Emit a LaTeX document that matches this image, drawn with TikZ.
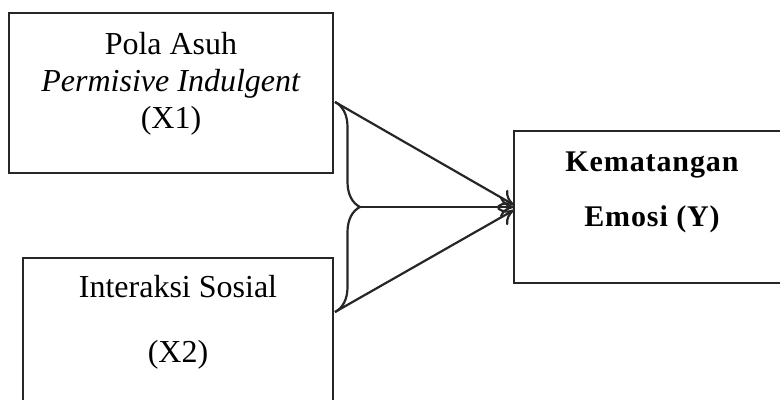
\documentclass[tikz,border=0pt]{standalone}
\usepackage{fontspec}
\setmainfont{Liberation Serif}
\usetikzlibrary{arrows.meta,positioning,decorations.pathreplacing}

\begin{document}
\begin{tikzpicture}[
      x=0.5pt, y=-0.5pt,
      box/.style={rectangle, draw=black!85, line width=1.2pt, inner sep=0pt, outer sep=0pt},
      txt/.style={align=center, font=\fontsize{16pt}{18.5pt}\selectfont},
      arrow/.style={-{To[length=7pt, width=10pt]}, draw=black!85, line width=1.1pt},
      curly/.style={decorate, decoration={brace, amplitude=12.5pt}, draw=black!85, line width=1.1pt}
    ]
      \useasboundingbox (0,0) rectangle (780,400);
      \clip (0,0) rectangle (780,400);

      % Boxes
      \node[box, minimum width=162pt, minimum height=80pt] (x1) at (171,93) {};
      \node[box, minimum width=155pt, minimum height=81pt] (x2) at (178,339) {};
      \node[box, minimum width=138pt, minimum height=76pt] (y) at (652,207) {};

      % Texts
      \node[txt, yshift=4.5pt] (x1_text) at (x1) {Pola Asuh\\\textit{Permisive Indulgent}\\(X1)};
      \node[txt, yshift=8.5pt] (x2_text) at (x2) {Interaksi Sosial\\[14pt](X2)};
      \node[txt, yshift=7.5pt, font=\fontsize{15pt}{18.5pt}\selectfont\bfseries\addfontfeatures{LetterSpace=3}] (y_text) at (y) {Kematangan\\[9pt]Emosi (Y)};

      % Brace
      \coordinate (brace_top) at (335,102);
      \coordinate (brace_bot) at (335,312);
      \coordinate (brace_mid) at (360,207);
      \draw[curly] (brace_top) -- (brace_bot);

      % Arrows
      \draw[arrow] (brace_top) -- ([yshift=1pt]y.west);
      \draw[arrow] (brace_mid) -- (y.west);
      \draw[arrow] (brace_bot) -- ([yshift=-1.5pt]y.west);
    \end{tikzpicture}
\end{document}
